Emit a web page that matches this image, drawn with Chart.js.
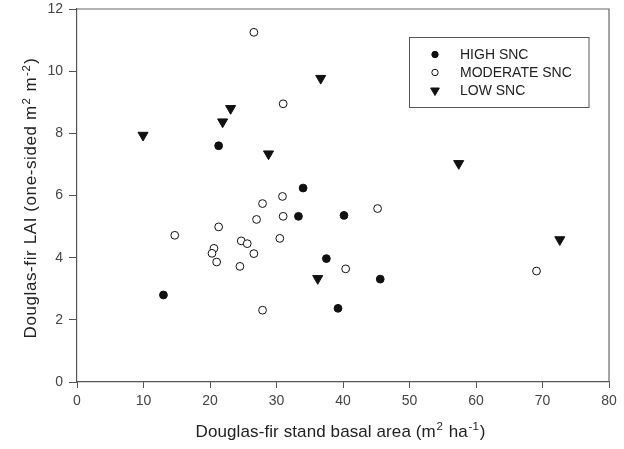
<!DOCTYPE html>
<html>
<head>
<meta charset="utf-8">
<script src="https://cdn.jsdelivr.net/npm/chart.js@4/dist/chart.umd.min.js"></script>
<style>
html,body{margin:0;padding:0;background:#fff;}
#wrap{width:624px;height:449px;}
</style>
</head>
<body>
<div id="wrap"><canvas id="c" width="624" height="449"></canvas></div>
<script>
// ---- data ----
const seriesNames = ["HIGH SNC", "MODERATE SNC", "LOW SNC"];

const highX = [21.3, 34.0, 33.3, 40.15, 37.5, 13.0, 39.25, 45.6];
const highY = [7.6, 6.24, 5.33, 5.36, 3.97, 2.80, 2.37, 3.31];

const modX = [26.6, 31.0, 30.9, 27.9, 31.0, 27.0, 21.3, 14.7, 24.7, 25.6, 30.5, 20.6, 20.3, 26.6, 21.0, 24.5, 40.4, 27.9, 45.2, 69.1];
const modY = [11.25, 8.95, 5.97, 5.74, 5.33, 5.23, 4.99, 4.72, 4.54, 4.45, 4.62, 4.30, 4.14, 4.13, 3.86, 3.72, 3.64, 2.31, 5.58, 3.57];

const lowX = [36.65, 23.1, 21.9, 9.93, 28.8, 57.4, 36.2, 72.6];
const lowY = [9.77, 8.80, 8.37, 7.94, 7.34, 7.03, 3.33, 4.58];

const xTicks = [0, 10, 20, 30, 40, 50, 60, 70, 80];
const yTicks = [0, 2, 4, 6, 8, 10, 12];

// axis titles: [text, isSuperscript]
const xTitleParts = [["Douglas-fir stand basal area (m", 0], ["2", 1], [" ha", 0], ["-1", 1], [")", 0]];
const yTitleParts = [["Douglas-fir LAI (one-sided m", 0], ["2", 1], [" m", 0], ["-2", 1], [")", 0]];

const pts = (xs, ys) => xs.map((x, i) => ({x: x, y: ys[i]}));

const FONT = "'Liberation Sans', Arial, sans-serif";
const TITLE_SIZE = 17;
const SUP_SIZE = 11.5;

function drawRich(ctx, parts, cx, cy, rotate, spacing) {
  ctx.save();
  ctx.translate(cx, cy);
  if (rotate) ctx.rotate(-Math.PI / 2);
  ctx.textBaseline = 'alphabetic';
  ctx.textAlign = 'left';
  let total = 0;
  const widths = parts.map(([t, s]) => {
    ctx.font = (s ? SUP_SIZE : TITLE_SIZE) + 'px ' + FONT;
    const w = ctx.measureText(t).width + (s ? 1.5 : 0) + spacing * t.length;
    total += w;
    return w;
  });
  let x = -total / 2;
  const base = TITLE_SIZE * 0.36;
  parts.forEach(([t, s], i) => {
    ctx.font = (s ? SUP_SIZE : TITLE_SIZE) + 'px ' + FONT;
    ctx.fillStyle = '#222';
    let cxp = x + (s ? 0.8 : 0);
    for (const ch of t) {
      ctx.fillText(ch, cxp, s ? base - 6.5 : base);
      cxp += ctx.measureText(ch).width + spacing;
    }
    x += widths[i];
  });
  ctx.restore();
}

// frame on top/right, axis titles, legend box inside plot
const framePlugin = {
  id: 'frameLegend',
  afterDraw(chart) {
    const {ctx, chartArea: a} = chart;
    ctx.save();
    ctx.strokeStyle = '#666';
    ctx.lineWidth = 1.2;
    ctx.beginPath();
    ctx.moveTo(a.left, a.top);
    ctx.lineTo(a.right, a.top);
    ctx.lineTo(a.right, a.bottom);
    ctx.stroke();

    drawRich(ctx, xTitleParts, 340.5, 430.5, false, 0.1);
    drawRich(ctx, yTitleParts, 30, 198, true, 0.6);

    // legend
    const bx = 409.5, by = 37.5, bw = 179.5, bh = 70;
    ctx.lineWidth = 1;
    ctx.strokeStyle = '#555';
    ctx.strokeRect(bx, by, bw, bh);
    const rowY = [54.5, 72.5, 90.5];
    ctx.font = '14px ' + FONT;
    ctx.textBaseline = 'middle';
    ctx.textAlign = 'left';
    chart.data.datasets.forEach((ds, i) => {
      const mx = 435, my = rowY[i];
      ctx.fillStyle = ds.pointBackgroundColor;
      ctx.strokeStyle = ds.pointBorderColor;
      ctx.lineWidth = 1;
      ctx.beginPath();
      if (ds.pointStyle === 'triangle') {
        const r = 5;
        ctx.moveTo(mx - r * 0.866, my - r * 0.5);
        ctx.lineTo(mx + r * 0.866, my - r * 0.5);
        ctx.lineTo(mx, my + r);
        ctx.closePath();
      } else {
        ctx.arc(mx, my, 3.2, 0, Math.PI * 2);
      }
      ctx.fill();
      ctx.stroke();
      ctx.fillStyle = '#222';
      ctx.fillText(ds.label, 460, my + 0.5);
    });
    ctx.restore();
  }
};

new Chart(document.getElementById('c'), {
  type: 'scatter',
  data: {
    datasets: [
      {
        label: seriesNames[0],
        data: pts(highX, highY),
        pointStyle: 'circle',
        pointRadius: 3.9,
        pointBorderWidth: 1,
        pointBackgroundColor: '#111',
        pointBorderColor: '#111'
      },
      {
        label: seriesNames[1],
        data: pts(modX, modY),
        pointStyle: 'circle',
        pointRadius: 3.9,
        pointBorderWidth: 1,
        pointBackgroundColor: '#fff',
        pointBorderColor: '#111'
      },
      {
        label: seriesNames[2],
        data: pts(lowX, lowY),
        pointStyle: 'triangle',
        pointRotation: 180,
        pointRadius: 5.8,
        pointBorderWidth: 1,
        pointBackgroundColor: '#111',
        pointBorderColor: '#111'
      }
    ]
  },
  options: {
    responsive: false,
    animation: false,
    events: [],
    layout: { padding: { top: 9, right: 15, left: 0, bottom: 0 } },
    plugins: {
      legend: { display: false },
      tooltip: { enabled: false },
      title: { display: false }
    },
    scales: {
      x: {
        type: 'linear',
        min: 0, max: 80,
        afterBuildTicks(s) { s.ticks = xTicks.map(v => ({value: v})); },
        afterFit(s) { s.height = 67; s.paddingLeft = 0; s.paddingRight = 0; },
        ticks: {
          padding: 5,
          color: '#444',
          font: { family: FONT, size: 14 },
          maxRotation: 0
        },
        grid: {
          drawOnChartArea: false,
          drawTicks: true,
          tickLength: 6,
          color: '#555',
          lineWidth: 1
        },
        border: { display: true, color: '#555', width: 1.2 },
        title: { display: false }
      },
      y: {
        type: 'linear',
        min: 0, max: 12,
        afterBuildTicks(s) { s.ticks = yTicks.map(v => ({value: v})); },
        afterFit(s) { s.width = 77; s.paddingTop = 0; s.paddingBottom = 0; },
        ticks: {
          padding: 6,
          color: '#444',
          font: { family: FONT, size: 14 }
        },
        grid: {
          drawOnChartArea: false,
          drawTicks: true,
          tickLength: 8,
          color: '#555',
          lineWidth: 1
        },
        border: { display: true, color: '#555', width: 1.2 },
        title: { display: false }
      }
    }
  },
  plugins: [framePlugin]
});
</script>
</body>
</html>
